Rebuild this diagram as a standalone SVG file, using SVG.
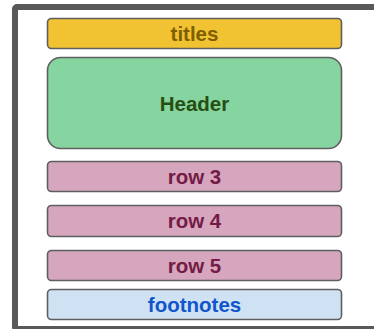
<svg xmlns="http://www.w3.org/2000/svg" width="374" height="329" viewBox="0 0 374 329">
  <style>
    .box { stroke: #5f5f5f; stroke-width: 1.6; }
    .lbl { font-family: "Liberation Sans", Arial, sans-serif; font-weight: bold; font-size: 20.5px; text-anchor: middle; }
  </style>
  <rect x="0" y="0" width="374" height="329" fill="#ffffff"/>
  <rect id="frame" x="15" y="7" width="400" height="322" rx="2" fill="#ffffff" stroke="#595959" stroke-width="6"/>
  <g id="titles">
    <rect class="box" x="47.5" y="18.5" width="294" height="30" rx="4" fill="#f1c232"/>
    <text class="lbl" x="194.5" y="40.5" fill="#7f6000">titles</text>
  </g>
  <g id="header">
    <rect class="box" x="47.5" y="57.5" width="294" height="91" rx="13" fill="#86d5a0"/>
    <text class="lbl" x="194.5" y="111" fill="#274e13">Header</text>
  </g>
  <g id="row3">
    <rect class="box" x="47.5" y="161.5" width="294" height="30" rx="4" fill="#d5a6bd"/>
    <text class="lbl" x="194.5" y="183.5" fill="#741b47">row 3</text>
  </g>
  <g id="row4">
    <rect class="box" x="47.5" y="205.5" width="294" height="31" rx="4" fill="#d5a6bd"/>
    <text class="lbl" x="194.5" y="228" fill="#741b47">row 4</text>
  </g>
  <g id="row5">
    <rect class="box" x="47.5" y="250.5" width="294" height="30" rx="4" fill="#d5a6bd"/>
    <text class="lbl" x="194.5" y="272.5" fill="#741b47">row 5</text>
  </g>
  <g id="footnotes">
    <rect class="box" x="47.5" y="289.5" width="294" height="30" rx="4" fill="#cfe2f3"/>
    <text class="lbl" x="194.5" y="311.5" fill="#1155cc">footnotes</text>
  </g>
  <g id="connectors"/>
</svg>
